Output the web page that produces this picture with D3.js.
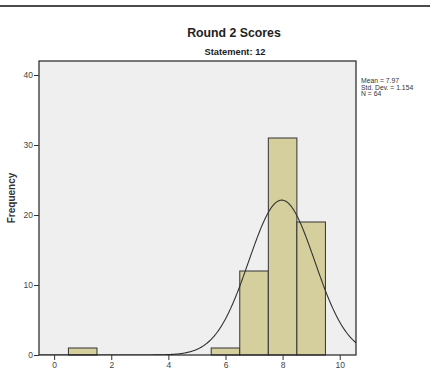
<!DOCTYPE html>
<html>
<head>
<meta charset="utf-8">
<script src="https://cdn.jsdelivr.net/npm/d3@7"></script>
<style>
  html, body { margin: 0; padding: 0; background: #fff; }
  svg { display: block; }
  text { font-family: "Liberation Sans", Arial, sans-serif; }
</style>
</head>
<body>
<svg id="chart" width="430" height="378"></svg>
<script>
// Score bins (centres) and how many respondents fell in each
const scores = [1, 6, 7, 8, 9];
const counts = [1, 1, 12, 31, 19];
const xTicks = [0, 2, 4, 6, 8, 10];
const yTicks = [0, 10, 20, 30, 40];
const statLines = ["Mean = 7.97", "Std. Dev. = 1.154", "N = 64"];
const mean = 7.97, sd = 1.154, n = 64, binWidth = 1;

const svg = d3.select("#chart");
const plot = { left: 39, right: 356, top: 61, bottom: 355 };

const x = d3.scaleLinear().domain([-0.53, 10.57]).range([plot.left, plot.right]);
const y = d3.scaleLinear().domain([0, 40]).range([plot.bottom, 75]);

// top rule
svg.append("line").attr("x1", 0).attr("x2", 430).attr("y1", 6).attr("y2", 6)
  .attr("stroke", "#111").attr("stroke-width", 1.6);

// titles
svg.append("text").attr("x", 234).attr("y", 37).attr("text-anchor", "middle")
  .attr("font-size", 12.3).attr("font-weight", "bold").attr("fill", "#222").text("Round 2 Scores");
svg.append("text").attr("x", 235).attr("y", 55).attr("text-anchor", "middle")
  .attr("font-size", 9.3).attr("font-weight", "bold").attr("fill", "#222").text("Statement: 12");

// plot background
svg.append("rect").attr("x", plot.left).attr("y", plot.top)
  .attr("width", plot.right - plot.left).attr("height", plot.bottom - plot.top)
  .attr("fill", "#efefef");

// clip for curve
svg.append("clipPath").attr("id", "plotclip").append("rect")
  .attr("x", plot.left).attr("y", plot.top)
  .attr("width", plot.right - plot.left).attr("height", plot.bottom - plot.top);

// bars
svg.append("g").selectAll("rect").data(scores).join("rect")
  .attr("x", (d) => x(d - binWidth / 2))
  .attr("width", (d) => x(d + binWidth / 2) - x(d - binWidth / 2))
  .attr("y", (d, i) => y(counts[i]))
  .attr("height", (d, i) => y(0) - y(counts[i]))
  .attr("fill", "#d4cf9c").attr("stroke", "#333").attr("stroke-width", 1);

// normal curve
const pts = d3.range(-0.53, 10.58, 0.02).map((v) => [v,
  n * binWidth / (sd * Math.sqrt(2 * Math.PI)) * Math.exp(-0.5 * ((v - mean) / sd) ** 2)]);
svg.append("path").datum(pts)
  .attr("clip-path", "url(#plotclip)")
  .attr("d", d3.line().x((d) => x(d[0])).y((d) => y(d[1])))
  .attr("fill", "none").attr("stroke", "#333").attr("stroke-width", 1.1);

// frame
svg.append("rect").attr("x", plot.left).attr("y", plot.top)
  .attr("width", plot.right - plot.left).attr("height", plot.bottom - plot.top)
  .attr("fill", "none").attr("stroke", "#222").attr("stroke-width", 1.2);

// axes
const xAxis = svg.append("g").attr("transform", `translate(0,${plot.bottom})`)
  .call(d3.axisBottom(x).tickValues(xTicks).tickSize(5).tickPadding(2).tickFormat(d3.format("d")));
const yAxis = svg.append("g").attr("transform", `translate(${plot.left},0)`)
  .call(d3.axisLeft(y).tickValues(yTicks).tickSize(5).tickPadding(1).tickFormat(d3.format("d")));
[xAxis, yAxis].forEach((g) => {
  g.select(".domain").remove();
  g.selectAll(".tick line").attr("stroke", "#333");
  g.selectAll(".tick text").attr("font-size", 8.5).attr("fill", "#444")
    .attr("font-family", "Liberation Sans, Arial, sans-serif");
});

// y label
svg.append("text").attr("transform", "translate(15,198) rotate(-90)")
  .attr("text-anchor", "middle").attr("font-size", 10).attr("font-weight", "bold")
  .attr("fill", "#333").text("Frequency");

// summary statistics
svg.append("g").selectAll("text").data(statLines).join("text")
  .attr("x", 361).attr("y", (d, i) => 83 + i * 6.5)
  .attr("font-size", 6.8).attr("fill", "#333").text((d) => d);
</script>
</body>
</html>
